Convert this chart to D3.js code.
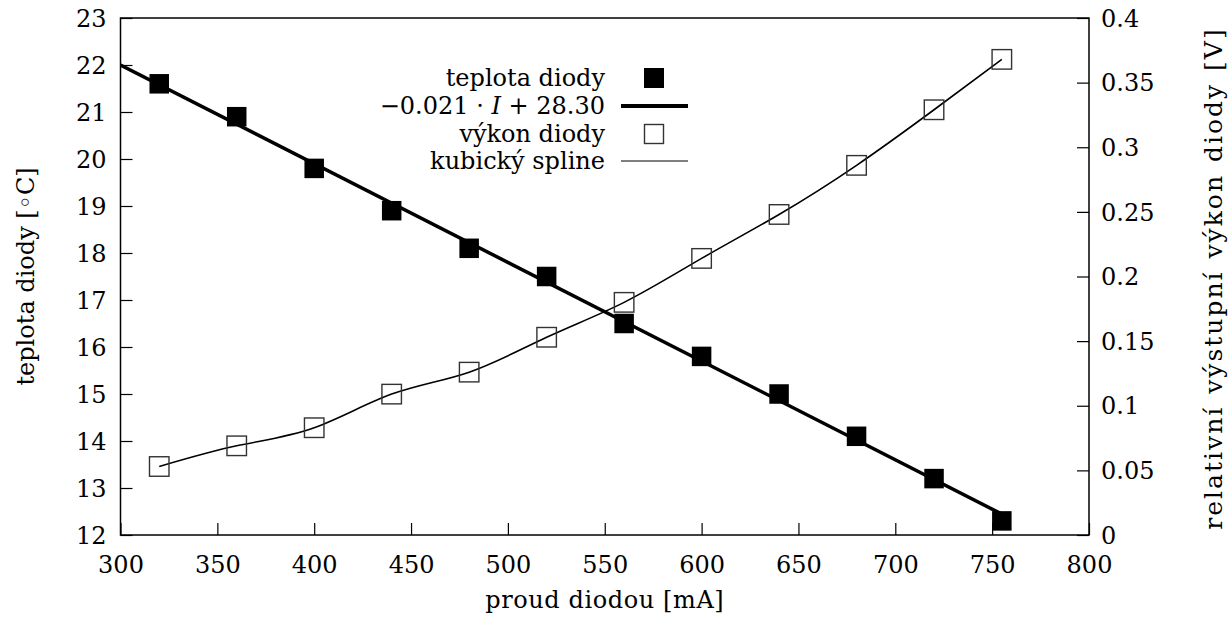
<!DOCTYPE html>
<html>
<head>
<meta charset="utf-8">
<script src="https://cdn.jsdelivr.net/npm/d3@7"></script>
<style>
  html, body { margin: 0; padding: 0; background: #fff; }
  svg { display: block; }
  svg text { font-family: "DejaVu Serif", "Liberation Serif", serif !important; fill: #000; }
</style>
</head>
<body>
<svg id="chart" width="1230" height="619"></svg>
<script>
// ---- data ----
const current = [320, 360, 400, 440, 480, 520, 560, 600, 640, 680, 720, 755];
const temperature = [21.6, 20.9, 19.8, 18.9, 18.1, 17.5, 16.5, 15.8, 15.0, 14.1, 13.2, 12.3];
const power = [0.053, 0.069, 0.083, 0.109, 0.126, 0.153, 0.180, 0.214, 0.248, 0.286, 0.329, 0.368];
const fitSlope = [-0.021];
const fitIntercept = [28.30];
const fitRange = [300, 755];
const xTicks = [300, 350, 400, 450, 500, 550, 600, 650, 700, 750, 800];
const yTicks = [12, 13, 14, 15, 16, 17, 18, 19, 20, 21, 22, 23];
const y2Ticks = [0, 0.05, 0.1, 0.15, 0.2, 0.25, 0.3, 0.35, 0.4];
const legendLabels = ["teplota diody", "fit", "výkon diody", "kubický spline"];
const xTitle = "proud diodou [mA]";
const yTitle = "teplota diody [◦C]";
const y2Title = "relativní výstupní výkon diody [V]";

// ---- layout ----
const svg = d3.select("#chart");
const L = 120.5, R = 1089, T = 18, B = 535;
const FS = 24;

const x = d3.scaleLinear().domain([300, 800]).range([L, R]);
const y = d3.scaleLinear().domain([12, 23]).range([B, T]);
const y2 = d3.scaleLinear().domain([0, 0.4]).range([B, T]);

const tickLen = 12;
const fmt2 = v => (v === 0 ? "0" : String(+v.toFixed(2)));

const xAxis = d3.axisBottom(x).tickValues(xTicks).tickSize(-tickLen).tickPadding(16).tickFormat(d3.format("d"));
const gx = svg.append("g").attr("transform", `translate(0,${B})`).call(xAxis);
const yAxis = d3.axisLeft(y).tickValues(yTicks).tickSize(-tickLen).tickPadding(14).tickFormat(d3.format("d"));
const gy = svg.append("g").attr("transform", `translate(${L},0)`).call(yAxis);
const y2Axis = d3.axisRight(y2).tickValues(y2Ticks).tickSize(-tickLen).tickPadding(12).tickFormat(fmt2);
const gy2 = svg.append("g").attr("transform", `translate(${R},0)`).call(y2Axis);

[gx, gy, gy2].forEach(g => {
  g.attr("font-family", null).attr("font-size", null);
  g.select(".domain").remove();
  g.selectAll(".tick line").attr("stroke", "#000").attr("stroke-width", 1.2);
  g.selectAll(".tick text").style("font-size", FS + "px").attr("fill", "#000");
});
gx.selectAll(".tick text").attr("dy", "0.9em");
gy.selectAll(".tick text").attr("dy", "0.34em");
gy2.selectAll(".tick text").attr("dy", "0.34em");

svg.append("rect").attr("x", L).attr("y", T).attr("width", R - L).attr("height", B - T)
  .attr("fill", "none").attr("stroke", "#000").attr("stroke-width", 1.5);

svg.append("clipPath").attr("id", "clip").append("rect")
  .attr("x", L).attr("y", T).attr("width", R - L).attr("height", B - T);
const plot = svg.append("g").attr("clip-path", "url(#clip)");

const fitPts = fitRange.map(v => [v, fitSlope[0] * v + fitIntercept[0]]);
plot.append("path")
  .attr("d", d3.line().x(d => x(d[0])).y(d => y(d[1]))(fitPts))
  .attr("fill", "none").attr("stroke", "#000").attr("stroke-width", 3.5);

const pw = current.map((c, i) => [c, power[i]]);
plot.append("path")
  .attr("d", d3.line().curve(d3.curveNatural).x(d => x(d[0])).y(d => y2(d[1]))(pw))
  .attr("fill", "none").attr("stroke", "#000").attr("stroke-width", 1.6);

const S = 19.5;
plot.selectAll("rect.pw").data(pw).enter().append("rect").attr("class", "pw")
  .attr("x", d => x(d[0]) - S / 2).attr("y", d => y2(d[1]) - S / 2)
  .attr("width", S).attr("height", S)
  .attr("fill", "none").attr("stroke", "#333").attr("stroke-width", 1.4);

const tp = current.map((c, i) => [c, temperature[i]]);
plot.selectAll("rect.tp").data(tp).enter().append("rect").attr("class", "tp")
  .attr("x", d => x(d[0]) - S / 2).attr("y", d => y(d[1]) - S / 2)
  .attr("width", S).attr("height", S).attr("fill", "#000");

// legend
const legX = 605, sampleX0 = 621, sampleX1 = 688, sampleC = 654;
const rows = [78, 106, 134, 161];
const LFS = 24;
const lg = svg.append("g");
rows.forEach((ry, i) => {
  const t = lg.append("text").attr("x", legX).attr("y", ry).attr("dy", "0.33em")
    .attr("text-anchor", "end").style("font-size", LFS + "px");
  if (i === 1) {
    t.append("tspan").text("−0.021 · ");
    t.append("tspan").attr("font-style", "italic").text("I");
    t.append("tspan").text(" + 28.30");
  } else {
    t.text(legendLabels[i]);
  }
});
lg.append("rect").attr("x", sampleC - 10).attr("y", rows[0] - 10).attr("width", 20).attr("height", 20).attr("fill", "#000");
lg.append("line").attr("x1", sampleX0).attr("x2", sampleX1).attr("y1", rows[1]).attr("y2", rows[1])
  .attr("stroke", "#000").attr("stroke-width", 4);
lg.append("rect").attr("x", sampleC - 9.5).attr("y", rows[2] - 9.5).attr("width", 19).attr("height", 19)
  .attr("fill", "none").attr("stroke", "#333").attr("stroke-width", 1.4);
lg.append("line").attr("x1", sampleX0).attr("x2", sampleX1).attr("y1", rows[3]).attr("y2", rows[3])
  .attr("stroke", "#555").attr("stroke-width", 1.4);

svg.append("text").attr("x", (L + R) / 2).attr("y", 608).attr("text-anchor", "middle")
  .style("font-size", FS + "px").style("letter-spacing", "0.6px").text(xTitle);
svg.append("text").attr("transform", `translate(34,${(T + B) / 2}) rotate(-90)`)
  .attr("text-anchor", "middle").style("font-size", FS + "px").text(yTitle);
svg.append("text").attr("transform", `translate(1222,${(T + B) / 2 + 2}) rotate(-90)`)
  .attr("text-anchor", "middle").style("font-size", "25px")
  .style("letter-spacing", "2px").style("word-spacing", "2px").text(y2Title);
</script>
</body>
</html>
